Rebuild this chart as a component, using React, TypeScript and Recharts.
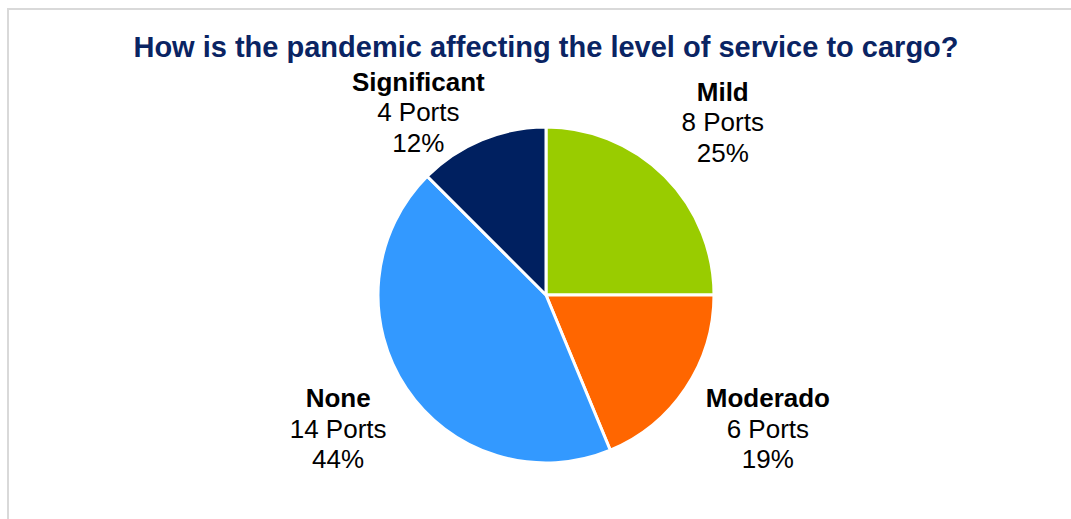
import { Cell, Pie, PieChart } from "recharts";

const categories = ["Mild", "Moderado", "None", "Significant"];
const ports = [8, 6, 14, 4];
const percents = [25, 19, 44, 12];
const colors = ["#99CC00", "#FF6600", "#3399FF", "#002060"];

const data = categories.map((name, i) => ({ name, value: ports[i], pct: percents[i] }));

// small shifts so labels sit where the deck had them (clear of the title)
const labelShift: Record<string, [number, number]> = {
  Mild: [0, 4],
  Moderado: [14, -5],
  None: [0, -5],
  Significant: [-32, 48],
};

const FONT = "'Liberation Sans', Arial, Helvetica, sans-serif";
const RAD = Math.PI / 180;

function SliceLabel(props: any) {
  const { cx, cy, midAngle, payload } = props;
  const r = 250;
  const [sx, sy] = labelShift[payload.name] || [0, 0];
  const x = cx + r * Math.cos(-midAngle * RAD) + sx;
  const y = cy + r * Math.sin(-midAngle * RAD) + sy + 9;
  return (
    <text x={x} y={y} textAnchor="middle" fontFamily={FONT} fontSize={26} fill="#000">
      <tspan x={x} dy={-30.5} fontWeight="bold">{payload.name}</tspan>
      <tspan x={x} dy={30.5}>{payload.value} Ports</tspan>
      <tspan x={x} dy={30.5}>{payload.pct}%</tspan>
    </text>
  );
}

export default function App() {
  return (
    <div style={{ position: "absolute", left: 0, top: 0, width: 1071, height: 519, background: "#fff", overflow: "hidden" }}>
      <div
        style={{
          position: "absolute", left: 7, top: 8, width: 1100, height: 600,
          borderLeft: "2px solid #d9d9d9", borderTop: "2px solid #d9d9d9",
        }}
      />
      <div
        style={{
          position: "absolute", left: 0, width: 1092, top: 31, textAlign: "center",
          fontFamily: FONT, fontWeight: "bold", fontSize: 29, color: "#0A2463", lineHeight: "32px",
        }}
      >
        How is the pandemic affecting the level of service to cargo?
      </div>
      <div style={{ position: "absolute", left: 0, top: 0 }}>
        <PieChart width={1071} height={519} margin={{ top: 0, right: 0, bottom: 0, left: 0 }}>
          <Pie
            data={data}
            dataKey="value"
            nameKey="name"
            cx={546}
            cy={295}
            outerRadius={168}
            startAngle={90}
            endAngle={-270}
            stroke="#fff"
            strokeWidth={3}
            labelLine={false}
            label={SliceLabel}
            isAnimationActive={false}
          >
            {data.map((d, i) => (
              <Cell key={d.name} fill={colors[i]} />
            ))}
          </Pie>
        </PieChart>
      </div>
    </div>
  );
}
